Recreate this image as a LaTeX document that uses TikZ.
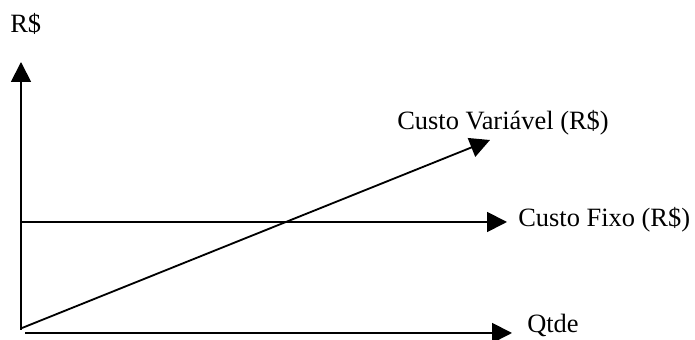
\documentclass[tikz,border=0pt]{standalone}
\usepackage{fontspec}
\setmainfont{Liberation Serif}
\usepackage{xcolor}
\usepackage{tikz}
\usetikzlibrary{arrows.meta}

\begin{document}
\begin{tikzpicture}[
    axis/.style={-{Triangle[length=0.5cm,width=0.5cm]},line width=1.3pt},
    lbl/.style={anchor=base west,inner sep=0pt,font=\fontsize{18.8}{22}\selectfont}
  ]
  \useasboundingbox (0,0) rectangle (17.375,8.5);
  \coordinate (O) at (0.525,0.25);
  \coordinate (ytop) at (0.525,6.95);
  \coordinate (xstart) at (0.625,0.175);
  \coordinate (xend) at (12.8,0.175);
  \coordinate (fstart) at (0.525,2.95);
  \coordinate (fend) at (12.675,2.95);
  \coordinate (vstart) at (0.55,0.3);
  \coordinate (vend) at (12.25,5.0);
  % eixos
  \draw[axis] (O) -- (ytop);
  \draw[axis] (xstart) -- (xend);
  % custos
  \draw[axis] (fstart) -- (fend);
  \draw[axis] (vstart) -- (vend);
  \node[lbl] (rs) at (0.25,7.675) {R\$};
  \node[lbl] (qtde) at (13.175,0.175) {Qtde};
  \node[lbl] (fixo) at (12.95,2.825) {Custo Fixo (R\$)};
  \node[lbl] (var) at (9.925,5.25) {Custo Variável (R\$)};
\end{tikzpicture}
\end{document}
